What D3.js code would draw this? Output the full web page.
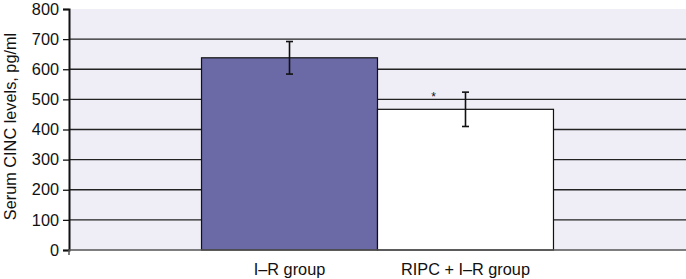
<!DOCTYPE html>
<html>
<head>
<meta charset="utf-8">
<script src="https://cdn.jsdelivr.net/npm/d3@7"></script>
<style>
  body { margin: 0; background: #fff; }
  text { font-family: "Liberation Sans", Arial, sans-serif; }
</style>
</head>
<body>
<svg id="chart" width="686" height="279"></svg>
<script>
const groups = ["I\u2013R group", "RIPC + I\u2013R group"]
const means = [638, 467]
const errors = [54, 57]
const fills = ["#6b6aa6", "#ffffff"]
const markers = ["", "*"]
const yTicks = [0, 100, 200, 300, 400, 500, 600, 700, 800]

const margin = { top: 9, right: 0, bottom: 29, left: 69 }
const width = 686
const height = 279
const chartWidth = width - margin.left - margin.right
const chartHeight = height - margin.top - margin.bottom

const svg = d3.select("#chart")
  .append("g")
  .attr("transform", `translate(${margin.left},${margin.top})`)

const x = d3.scaleBand().domain(groups).range([0, chartWidth]).paddingInner(0).paddingOuter(0.753)
const y = d3.scaleLinear().domain([0, 800]).range([chartHeight, 0])

// plot background
svg.append("rect")
  .attr("width", chartWidth)
  .attr("height", chartHeight)
  .attr("fill", "#efeef6")

// gridlines
svg.selectAll(".grid")
  .data(yTicks.filter(d => d > 0 && d < 800))
  .enter().append("line")
  .attr("x1", 0).attr("x2", chartWidth)
  .attr("y1", d => y(d)).attr("y2", d => y(d))
  .attr("stroke", "#222").attr("stroke-width", 1.3)

// y axis
const yAxis = svg.append("g")
  .call(d3.axisLeft(y).tickValues(yTicks).tickSize(6).tickPadding(4))
yAxis.select(".domain").attr("stroke", "#111").attr("stroke-width", 2)
yAxis.selectAll(".tick line").attr("stroke", "#111").attr("stroke-width", 1.3)
yAxis.selectAll("text").attr("font-size", 16.3).attr("fill", "#111")

// bars
svg.selectAll(".bar")
  .data(groups)
  .enter().append("rect")
  .attr("x", d => x(d))
  .attr("y", (d, i) => y(means[i]))
  .attr("width", x.bandwidth())
  .attr("height", (d, i) => chartHeight - y(means[i]))
  .attr("fill", (d, i) => fills[i])
  .attr("stroke", "#111").attr("stroke-width", 1.2)

// baseline
svg.append("line")
  .attr("x1", 0).attr("x2", chartWidth)
  .attr("y1", chartHeight).attr("y2", chartHeight)
  .attr("stroke", "#555").attr("stroke-width", 1.5)
svg.append("line")
  .attr("x1", 0).attr("x2", 0)
  .attr("y1", chartHeight).attr("y2", chartHeight + 5)
  .attr("stroke", "#555").attr("stroke-width", 1.5)

// error bars
const eb = svg.selectAll(".err")
  .data(groups)
  .enter().append("g")
  .attr("transform", d => `translate(${x(d) + x.bandwidth() / 2},0)`)
eb.append("line")
  .attr("y1", (d, i) => y(means[i] + errors[i]))
  .attr("y2", (d, i) => y(means[i] - errors[i]))
  .attr("stroke", "#111").attr("stroke-width", 1.6)
eb.each(function (d, i) {
  const g = d3.select(this)
  ;[means[i] + errors[i], means[i] - errors[i]].forEach(v => {
    g.append("line")
      .attr("x1", -3.5).attr("x2", 3.5)
      .attr("y1", y(v)).attr("y2", y(v))
      .attr("stroke", "#111").attr("stroke-width", 1.6)
  })
})

// significance marker
svg.selectAll(".marker")
  .data(groups)
  .enter().append("text")
  .attr("x", d => x(d) + x.bandwidth() / 2 - 32)
  .attr("y", (d, i) => y(means[i] + errors[i]) + 9)
  .attr("text-anchor", "middle")
  .attr("font-size", 12)
  .attr("fill", "#111")
  .text((d, i) => markers[i])

// category labels
svg.selectAll(".cat")
  .data(groups)
  .enter().append("text")
  .attr("x", d => x(d) + x.bandwidth() / 2)
  .attr("y", chartHeight + 25)
  .attr("text-anchor", "middle")
  .attr("font-size", 16.3)
  .attr("fill", "#111")
  .text(d => d)

// y title
svg.append("text")
  .attr("transform", `translate(${-53},${chartHeight / 2 - 3}) rotate(-90)`)
  .attr("text-anchor", "middle")
  .attr("font-size", 16.3)
  .attr("fill", "#111")
  .text("Serum CINC levels, pg/ml")
</script>
</body>
</html>
